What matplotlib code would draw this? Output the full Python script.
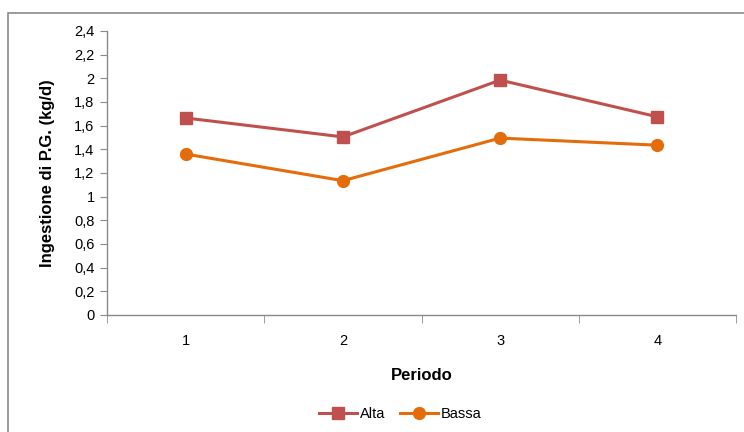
import matplotlib.pyplot as plt
from matplotlib.patches import Rectangle
from matplotlib.ticker import FuncFormatter, MultipleLocator
import numpy as np

periods = ["1", "2", "3", "4"]
alta = [1.665, 1.505, 1.985, 1.675]
bassa = [1.36, 1.135, 1.495, 1.435]

plt.rcParams["font.family"] = ["Liberation Sans", "DejaVu Sans"]

fig = plt.figure(figsize=(7.44, 4.32), dpi=100)
ax = fig.add_axes([107 / 744, 1 - 315 / 432, 629 / 744, 284 / 432])

# chart frame (runs off the right and bottom edges like the original)
fig.patches.append(Rectangle((8 / 744, -0.05), 1.0, 1 - 13 / 432 + 0.05,
                             transform=fig.transFigure, fill=False,
                             edgecolor="#8a8a8a", linewidth=1.2))

x = np.arange(len(periods))
ax.plot(x, alta, color="#C0504D", marker="s", markersize=9, linewidth=2.2,
        label="Alta")
ax.plot(x, bassa, color="#E46C0A", marker="o", markersize=8.5, linewidth=2.2,
        label="Bassa")

ax.set_xlim(-0.5, len(periods) - 0.5)
ax.set_ylim(0, 2.4)
ax.yaxis.set_major_locator(MultipleLocator(0.2))
ax.yaxis.set_major_formatter(
    FuncFormatter(lambda v, p: ("%g" % round(v, 1)).replace(".", ",")))
ax.set_xticks(x)
ax.set_xticklabels(periods)
ax.set_xticks(np.arange(-0.5, len(periods)), minor=True)
ax.tick_params(axis="x", which="major", length=0, pad=14, labelsize=10.5,
               colors="black")
ax.tick_params(axis="x", which="minor", length=6, color="#8a8a8a",
               direction="out")
ax.tick_params(axis="y", length=5, color="#8a8a8a", labelsize=10.5, pad=4)

for s in ["top", "right"]:
    ax.spines[s].set_visible(False)
for s in ["left", "bottom"]:
    ax.spines[s].set_color("#8a8a8a")
    ax.spines[s].set_linewidth(1)

ax.set_xlabel("Periodo", fontsize=12, fontweight="bold", labelpad=14)
ax.set_ylabel("Ingestione di P.G. (kg/d)", fontsize=12, fontweight="bold",
              labelpad=14)

fig.legend(loc="center", bbox_to_anchor=(400 / 744, 1 - 414 / 432), ncol=2,
           frameon=False, fontsize=10.5, handlelength=2.6, columnspacing=1.0,
           handletextpad=0.2)

fig.savefig("out.png", dpi=100)
